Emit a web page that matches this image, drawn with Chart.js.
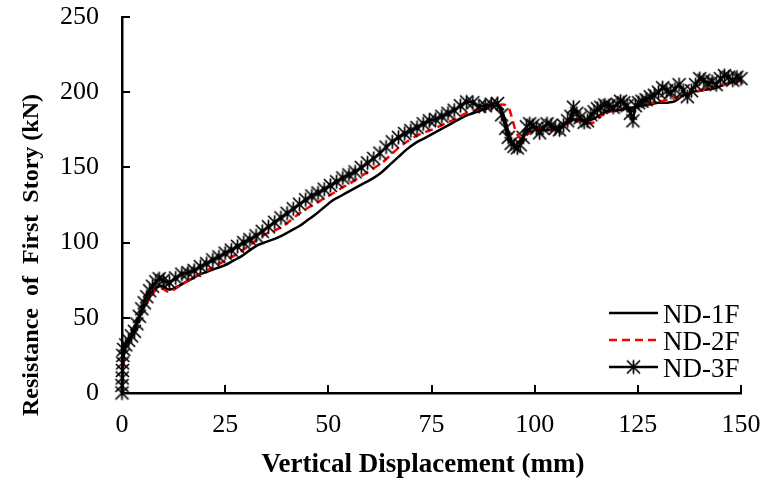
<!DOCTYPE html>
<html>
<head>
<meta charset="utf-8">
<script src="https://cdn.jsdelivr.net/npm/chart.js@4.4.1/dist/chart.umd.min.js"></script>
<style>
  html, body { margin: 0; padding: 0; background: #fff; }
  #wrap { width: 767px; height: 484px; }
</style>
</head>
<body>
<div id="wrap"><canvas id="myChart"></canvas></div>
<script>
// Series names
const seriesNames = ['ND-1F', 'ND-2F', 'ND-3F'];

// ND-1F : vertical displacement (mm) / resistance (kN)
const nd1X = [0, 0.3, 0.6, 1, 2, 3, 4, 5, 6, 7,
  8, 9, 10, 11, 12, 13, 15, 17, 19, 21,
  23, 25, 27, 29, 31, 33, 35, 37, 39, 41,
  43, 45, 47, 49, 51, 53, 55, 57, 59, 61,
  63, 65, 67, 69, 71, 73, 75, 77, 79, 81,
  83, 85, 87, 89, 91, 92, 93, 94, 95, 96,
  97, 98, 99, 100, 102, 104, 106, 108, 110, 112,
  114, 116, 118, 120, 122, 124, 126, 128, 130, 132,
  134, 136, 138, 140, 142, 144, 146, 148, 150];
const nd1Y = [0, 20, 29, 33, 38, 44, 50, 56, 61, 65,
  69, 71, 71, 69, 69, 70, 73, 76, 79, 81,
  83, 85, 88, 91, 95, 98.5, 100.5, 102.5, 105, 108,
  111, 115, 119, 123.5, 128, 131, 134, 137, 140, 143,
  147, 152, 157, 162, 166, 169, 172, 175, 178, 181,
  184, 186, 188, 190, 191, 188, 180, 170, 165, 164,
  168, 174, 176, 177, 175, 175, 177, 180, 182, 181,
  182, 185, 188, 188, 189, 190, 191, 192, 193, 193,
  194, 198, 200, 201, 202, 203, 205, 207, 208];

// ND-2F
const nd2X = [0, 0.3, 0.6, 1, 2, 3, 4, 5, 6, 7,
  8, 9, 10, 11, 12, 13, 15, 17, 19, 21,
  23, 25, 27, 29, 31, 33, 35, 37, 39, 41,
  43, 45, 47, 49, 51, 53, 55, 57, 59, 61,
  63, 65, 67, 69, 71, 73, 75, 77, 79, 81,
  83, 85, 87, 89, 91, 93, 93.8, 94.5, 95.2, 96,
  97, 98, 99, 100, 102, 104, 106, 108, 110, 112,
  114, 116, 118, 120, 122, 124, 126, 128, 130, 132,
  134, 136, 138, 140, 142, 144, 146, 148, 150];
const nd2Y = [0, 18, 27, 31, 37, 43, 49, 55, 60, 64,
  68, 70, 69, 67.5, 67.5, 69.5, 73, 76.5, 79.5, 82,
  85, 88, 91, 94.5, 98.5, 102.5, 106, 108, 111, 115,
  119.5, 123, 126, 129.5, 132.5, 136, 139, 142.5, 146, 149.5,
  153, 158, 163, 167, 170.5, 173, 175, 177.5, 180, 182.5,
  185.5, 187.5, 189, 190, 191.5, 191.5, 189, 183, 176, 171,
  169, 171, 174, 176, 176, 175, 177, 179, 181, 180,
  179.5, 184, 187, 188, 189.5, 191.5, 192, 193, 193.5, 195,
  196, 198, 200, 201, 202.5, 204, 205, 206.5, 208];

// ND-3F
const nd3X = [0, 0, 0.05, 0.1, 0.15, 0.2, 0.4, 0.9, 1.6, 2.3,
  3, 3.6, 4.2, 4.8, 5.4, 6, 6.7, 7.4, 8.2, 9,
  10, 11.5, 13, 14.5, 16, 17.5, 19, 20.5, 22, 23.5,
  25, 26.5, 28, 29.5, 31, 32.5, 34, 35.5, 37, 38.5,
  40, 41.5, 43, 44.5, 46, 47.5, 49, 50.5, 52, 53.5,
  55, 56.5, 58, 59.5, 61, 62.5, 64, 65.5, 67, 68.5,
  70, 71.5, 73, 74.5, 76, 77.5, 79, 80.5, 82, 83.5,
  85, 86.5, 88, 89.5, 91, 92, 93, 93.6, 94.3, 95,
  95.8, 96.5, 97.2, 98, 98.8, 99.6, 100.4, 101.2, 102, 103,
  104, 105, 106, 107, 108, 108.8, 109.4, 110.2, 111, 112,
  112.8, 113.6, 114.4, 115.2, 116, 117, 118, 119, 120, 120.8,
  121.6, 122.4, 123.2, 123.8, 124.4, 125.2, 126, 127, 128, 129,
  130, 131, 132, 133, 134, 135, 136, 137, 138, 139,
  140, 141, 142, 143, 144, 145, 146, 147, 148, 149,
  150];
const nd3Y = [0, 5, 10, 15, 20, 25, 29, 32, 35, 38,
  41, 46, 51, 56, 60, 64, 68, 71, 74, 76,
  75, 73.5, 76.5, 79, 80, 81.5, 84, 86, 88.5, 90.5,
  93, 95, 97.5, 100, 102, 104.5, 107.5, 110.5, 113.5, 116.5,
  119.5, 122.5, 125.5, 128.5, 131, 133, 135.5, 138, 140.5, 143,
  145, 147, 150, 153, 156, 159.5, 163.5, 167, 170, 172.5,
  174.5, 176.5, 179, 181, 182, 184, 186, 188, 191, 193.5,
  193, 190.5, 191, 192, 192.5, 185, 176, 170, 166, 164,
  163, 165, 170, 177, 179, 178, 176, 173, 176, 179,
  178, 176, 175, 178, 181, 184, 190, 186, 183, 180,
  181, 185, 187, 189, 190, 191.5, 191, 190, 192, 194,
  193, 191, 186, 181, 191, 193, 194, 195, 197, 198,
  200, 203, 201, 200, 202, 205, 201, 197, 201, 205,
  209, 208, 206, 207, 205, 209, 211, 210, 208, 210,
  209];

// Axis ticks and titles
const xTicks = [0, 25, 50, 75, 100, 125, 150];
const yTicks = [0, 50, 100, 150, 200, 250];
const xTitle = 'Vertical Displacement (mm)';
const yTitle = 'Resistance  of  First  Story (kN)';

const serif = '"Liberation Serif", "Times New Roman", serif';

function toPoints(xs, ys) {
  return xs.map((x, i) => ({ x: x, y: ys[i] }));
}

// asterisk marker like the Excel "*" marker
function makeStar(r) {
  const c = document.createElement('canvas');
  const s = 2 * r + 4;
  c.width = s; c.height = s;
  const g = c.getContext('2d');
  const m = s / 2;
  g.strokeStyle = '#000';
  g.lineWidth = 1.7;
  g.beginPath();
  g.moveTo(m - r, m - r); g.lineTo(m + r, m + r);
  g.moveTo(m - r, m + r); g.lineTo(m + r, m - r);
  g.moveTo(m, m - r - 0.5); g.lineTo(m, m + r + 0.5);
  g.stroke();
  return c;
}
const starImg = makeStar(6.5);

// inward tick marks
const innerTicks = {
  id: 'innerTicks',
  afterDraw(chart) {
    const ctx = chart.ctx;
    const xs = chart.scales.x, ys = chart.scales.y;
    const a = chart.chartArea;
    ctx.save();
    ctx.strokeStyle = '#000';
    ctx.lineWidth = 2;
    ctx.beginPath();
    ys.ticks.forEach(t => {
      const y = Math.round(ys.getPixelForValue(t.value));
      ctx.moveTo(a.left, y); ctx.lineTo(a.left + 8, y);
    });
    xs.ticks.forEach(t => {
      const x = Math.round(xs.getPixelForValue(t.value));
      ctx.moveTo(x, a.bottom); ctx.lineTo(x, a.bottom - 8);
    });
    ctx.stroke();
    ctx.restore();
  }
};

// axis titles
const axisTitles = {
  id: 'axisTitles',
  afterDraw(chart) {
    const ctx = chart.ctx;
    ctx.save();
    ctx.fillStyle = '#000';
    ctx.textAlign = 'center';
    ctx.textBaseline = 'alphabetic';
    ctx.font = 'bold 27px ' + serif;
    ctx.fillText(xTitle, 423, 472);
    ctx.font = 'bold 24px ' + serif;
    ctx.translate(38, 255);
    ctx.rotate(-Math.PI / 2);
    ctx.fillText(yTitle, 0, 0);
    ctx.restore();
  }
};

// legend inside the plot, bottom right
const insideLegend = {
  id: 'insideLegend',
  afterDraw(chart) {
    const ctx = chart.ctx;
    const a = chart.chartArea;
    const x0 = a.right - 132, x1 = a.right - 83, tx = a.right - 78;
    const rows = [a.bottom - 80, a.bottom - 53, a.bottom - 26];
    ctx.save();
    seriesNames.forEach((name, i) => {
      const ds = chart.data.datasets[i];
      const y = rows[i];
      ctx.strokeStyle = ds.borderColor;
      ctx.lineWidth = ds.borderWidth;
      ctx.setLineDash(ds.borderDash || []);
      ctx.beginPath();
      ctx.moveTo(x0, y); ctx.lineTo(x1, y);
      ctx.stroke();
      ctx.setLineDash([]);
      if (ds.pointRadius > 0) {
        ctx.drawImage(starImg, (x0 + x1) / 2 - starImg.width / 2, y - starImg.height / 2);
      }
      ctx.fillStyle = '#000';
      ctx.font = '27px ' + serif;
      ctx.textAlign = 'left';
      ctx.textBaseline = 'alphabetic';
      ctx.fillText(name, tx, y + 10);
    });
    ctx.restore();
  }
};

const ctx = document.getElementById('myChart').getContext('2d');
const myChart = new Chart(ctx, {
  type: 'line',
  data: {
    datasets: [
      {
        label: seriesNames[0],
        data: toPoints(nd1X, nd1Y),
        borderColor: '#000',
        borderWidth: 2.5,
        pointRadius: 0,
        tension: 0.3,
        clip: false,
        order: 3
      },
      {
        label: seriesNames[1],
        data: toPoints(nd2X, nd2Y),
        borderColor: '#ff0000',
        borderWidth: 2.5,
        borderDash: [8, 5],
        pointRadius: 0,
        tension: 0.3,
        clip: false,
        order: 2
      },
      {
        label: seriesNames[2],
        data: toPoints(nd3X, nd3Y),
        borderColor: '#000',
        borderWidth: 2.5,
        pointRadius: 6,
        pointStyle: starImg,
        tension: 0.2,
        clip: false,
        order: 1
      }
    ]
  },
  options: {
    responsive: true,
    maintainAspectRatio: false,
    animation: false,
    layout: { padding: { top: 17, right: 26, bottom: 0, left: 0 } },
    plugins: {
      legend: { display: false },
      tooltip: { enabled: false }
    },
    scales: {
      x: {
        type: 'linear',
        min: 0,
        max: 150,
        afterBuildTicks: s => { s.ticks = xTicks.map(v => ({ value: v })); },
        afterFit: s => { s.height = 91; s.paddingLeft = 0; s.paddingRight = 0; },
        grid: { display: true, drawOnChartArea: false, drawTicks: false },
        border: { display: true, color: '#000', width: 2.5 },
        ticks: { color: '#000', padding: 17, maxRotation: 0, font: { family: serif, size: 26 } }
      },
      y: {
        type: 'linear',
        min: 0,
        max: 250,
        afterBuildTicks: s => { s.ticks = yTicks.map(v => ({ value: v })); },
        afterFit: s => { s.width = 122; s.paddingTop = 0; s.paddingBottom = 0; },
        grid: { display: true, drawOnChartArea: false, drawTicks: false },
        border: { display: true, color: '#000', width: 2.5 },
        ticks: { color: '#000', padding: 23, font: { family: serif, size: 26 } }
      }
    }
  },
  plugins: [innerTicks, axisTitles, insideLegend]
});
</script>
</body>
</html>
